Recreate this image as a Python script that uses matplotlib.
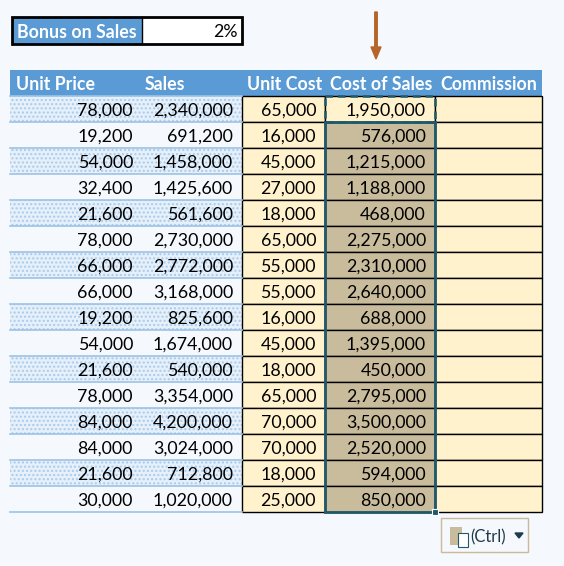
import matplotlib
matplotlib.use('Agg')
import matplotlib.pyplot as plt
from matplotlib.patches import Rectangle, FancyArrow

plt.rcParams['font.family'] = ['Lato', 'DejaVu Sans']

headers = ['Unit Price', 'Sales', 'Unit Cost', 'Cost of Sales', 'Commission']
unit_price = [78000, 19200, 54000, 32400, 21600, 78000, 66000, 66000,
              19200, 54000, 21600, 78000, 84000, 84000, 21600, 30000]
sales = [2340000, 691200, 1458000, 1425600, 561600, 2730000, 2772000, 3168000,
         825600, 1674000, 540000, 3354000, 4200000, 3024000, 712800, 1020000]
unit_cost = [65000, 16000, 45000, 27000, 18000, 65000, 55000, 55000,
             16000, 45000, 18000, 65000, 70000, 70000, 18000, 25000]
cost_of_sales = [1950000, 576000, 1215000, 1188000, 468000, 2275000, 2310000, 2640000,
                 688000, 1395000, 450000, 2795000, 3500000, 2520000, 594000, 850000]
bonus_label = 'Bonus on Sales'
bonus_value = '2%'

# column edges in pixels
col_x = [10, 142, 242, 325, 435, 542]
head_top, row_h = 70, 26
n = len(unit_price)

fig = plt.figure(figsize=(5.64, 5.66), dpi=100)
fig.patch.set_facecolor('#F5F8FC')
ax = fig.add_axes([0, 0, 1, 1])
ax.set_xlim(0, 564)
ax.set_ylim(566, 0)
ax.axis('off')

fs = 12.8
pad = 9
# bonus box
ax.add_patch(Rectangle((12, 17), 130, 27, facecolor='#5B9BD5', edgecolor='none'))
ax.add_patch(Rectangle((142, 17), 100, 27, facecolor='white', edgecolor='none'))
ax.add_patch(Rectangle((12, 17), 230, 27, facecolor='none', edgecolor='black', lw=2))
ax.plot([142, 142], [17, 44], color='black', lw=1)
ax.text(17, 32, bonus_label, color='white', weight='bold', fontsize=fs, va='center')
ax.text(238, 32, bonus_value, color='black', fontsize=fs, va='center', ha='right')

# header
ax.add_patch(Rectangle((col_x[0], head_top), col_x[-1] - col_x[0], row_h,
                       facecolor='#5B9BD5', edgecolor='none'))
head_x = [16, 145, 247, 330, 440]
for h, x in zip(headers, head_x):
    ax.text(x, head_top + row_h / 2 + 2, h, color='white', weight='bold',
            fontsize=fs, va='center')

# rows
for i in range(n):
    y0 = head_top + row_h * (i + 1)
    if i % 2 == 0:
        ax.add_patch(Rectangle((col_x[0], y0), col_x[2] - col_x[0], row_h,
                               facecolor='#E6F0FA', edgecolor='#A9CBEA', hatch='....', lw=0))
    ax.plot([col_x[0], col_x[2]], [y0 + row_h, y0 + row_h], color='#9DC3E6', lw=1.2)
    for c in range(2, 5):
        fc = '#FFF2CC'
        if c == 3 and i > 0:
            fc = '#C9BC9C'
        ax.add_patch(Rectangle((col_x[c], y0), col_x[c + 1] - col_x[c], row_h,
                               facecolor=fc, edgecolor='black', lw=1))
    yc = y0 + row_h / 2 + 2
    ax.text(col_x[1] - pad, yc, f'{unit_price[i]:,}', ha='right', va='center', fontsize=fs)
    ax.text(col_x[2] - pad, yc, f'{sales[i]:,}', ha='right', va='center', fontsize=fs)
    ax.text(col_x[3] - pad, yc, f'{unit_cost[i]:,}', ha='right', va='center', fontsize=fs)
    ax.text(col_x[4] - pad, yc, f'{cost_of_sales[i]:,}', ha='right', va='center', fontsize=fs)

ax.plot([col_x[0], col_x[2]], [head_top + row_h, head_top + row_h], color='#9DC3E6', lw=1.2)

# copied cell (dashed) and selection range
sel = '#1F5A6A'
r1 = head_top + row_h
ax.add_patch(Rectangle((col_x[3], r1), col_x[4] - col_x[3], row_h,
                       facecolor='none', edgecolor=sel, lw=1.8, ls=(0, (3, 2))))
ax.add_patch(Rectangle((col_x[3], r1 + row_h), col_x[4] - col_x[3], row_h * (n - 1),
                       facecolor='none', edgecolor=sel, lw=2))
bot = head_top + row_h * (n + 1)
ax.add_patch(Rectangle((col_x[4] - 3, bot - 3), 6, 6, facecolor=sel, edgecolor='white', lw=0.8))

# arrow
ax.add_patch(FancyArrow(376, 12, 0, 47, width=2.5, head_width=10, head_length=12,
                        length_includes_head=True, color='#B5652A'))

# paste options button
ax.add_patch(Rectangle((441, 518), 87, 34, facecolor='#F5F8FC', edgecolor='#C8BA9A', lw=1))
ax.add_patch(Rectangle((450, 527), 12, 18, facecolor='#C9BC9C', edgecolor='none'))
ax.add_patch(Rectangle((458, 533), 10, 14, facecolor='white', edgecolor='#1F5A6A', lw=0.8))
ax.text(470, 537, '(Ctrl)', fontsize=12, va='center', color='#1F3A4A')
ax.fill([515, 523, 519], [533, 533, 538], color='#1F3A4A')

fig.savefig('out.png', dpi=100, facecolor=fig.get_facecolor())
